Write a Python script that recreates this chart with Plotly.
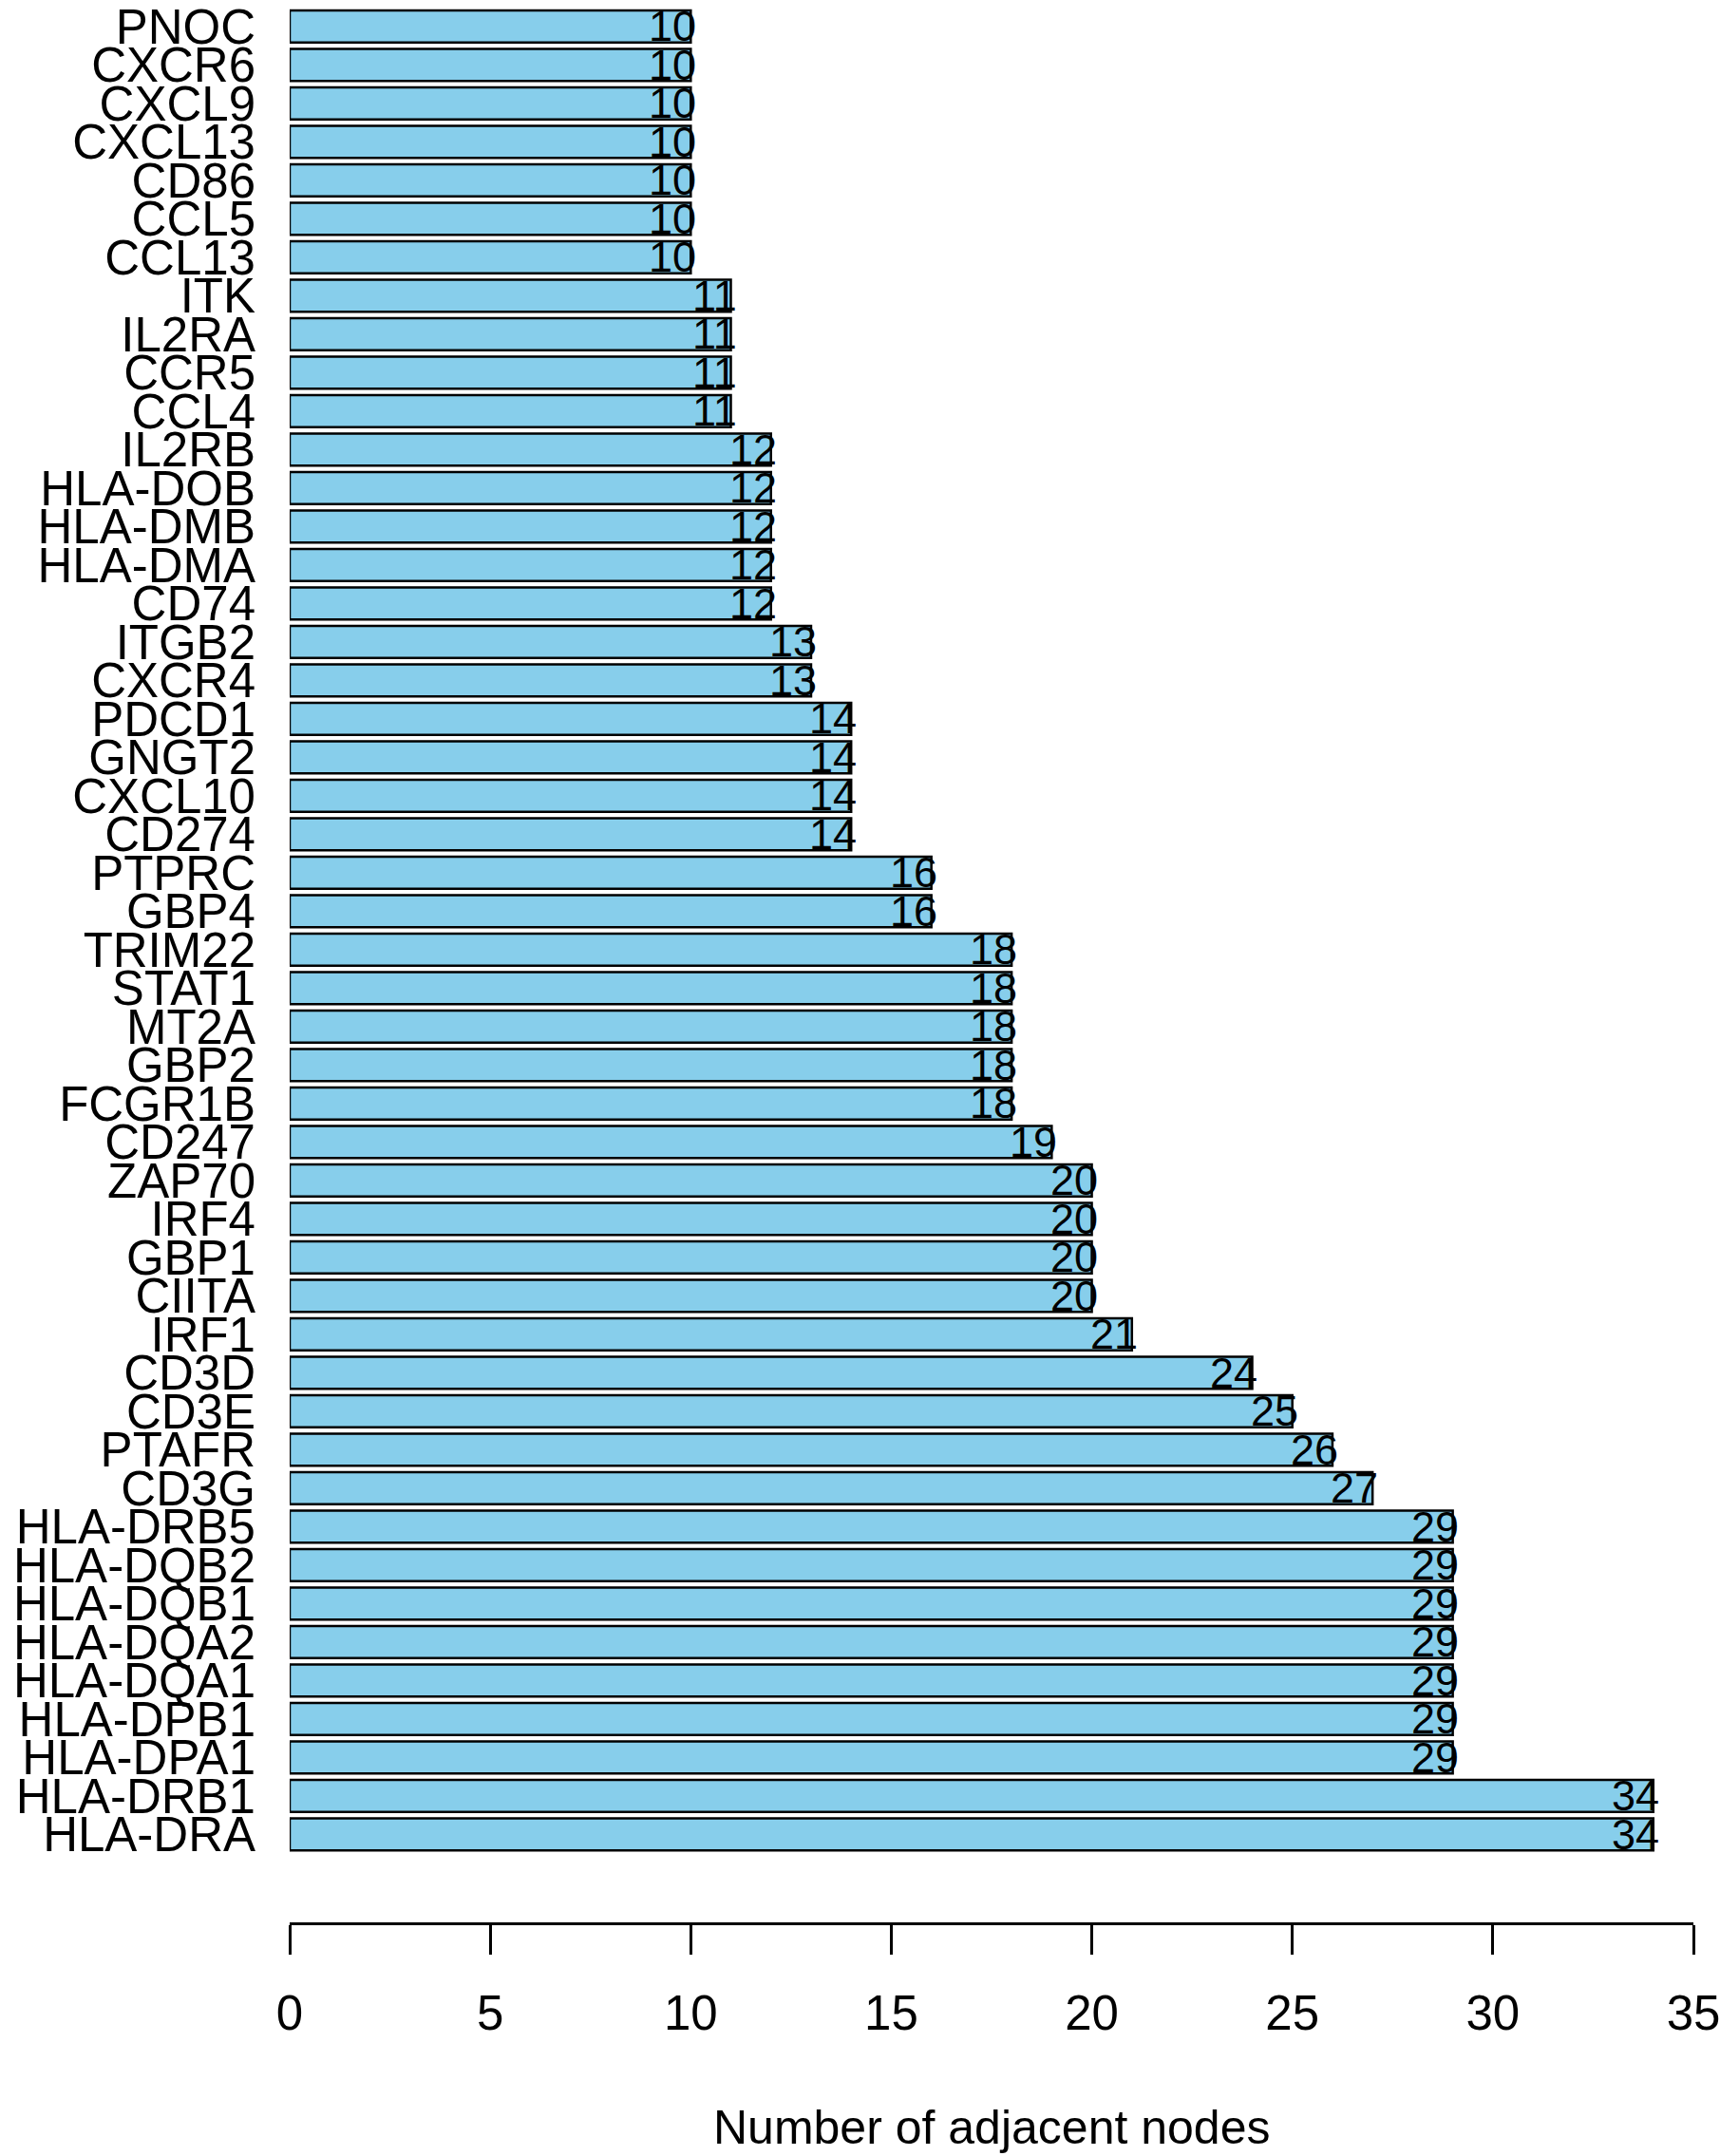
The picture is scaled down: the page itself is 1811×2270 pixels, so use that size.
import plotly.graph_objects as go

genes = ["PNOC", "CXCR6", "CXCL9", "CXCL13", "CD86", "CCL5", "CCL13", "ITK", "IL2RA", "CCR5",
         "CCL4", "IL2RB", "HLA-DOB", "HLA-DMB", "HLA-DMA", "CD74", "ITGB2", "CXCR4", "PDCD1",
         "GNGT2", "CXCL10", "CD274", "PTPRC", "GBP4", "TRIM22", "STAT1", "MT2A", "GBP2",
         "FCGR1B", "CD247", "ZAP70", "IRF4", "GBP1", "CIITA", "IRF1", "CD3D", "CD3E", "PTAFR",
         "CD3G", "HLA-DRB5", "HLA-DQB2", "HLA-DQB1", "HLA-DQA2", "HLA-DQA1", "HLA-DPB1",
         "HLA-DPA1", "HLA-DRB1", "HLA-DRA"]
degrees = [10, 10, 10, 10, 10, 10, 10, 11, 11, 11,
           11, 12, 12, 12, 12, 12, 13, 13, 14,
           14, 14, 14, 16, 16, 18, 18, 18, 18,
           18, 19, 20, 20, 20, 20, 21, 24, 25, 26,
           27, 29, 29, 29, 29, 29, 29,
           29, 34, 34]
x_ticks = [0, 5, 10, 15, 20, 25, 30, 35]
x_title = "Number of adjacent nodes"

FONT = "Liberation Sans, Arial, sans-serif"

fig = go.Figure()
fig.add_trace(go.Bar(
    x=degrees, y=genes, orientation="h",
    marker=dict(color="#87CEEB", line=dict(color="black", width=2.5)),
    hoverinfo="x+y",
))

for g, v in zip(genes, degrees):
    fig.add_annotation(x=v, y=g, text=str(v), showarrow=False,
                       xanchor="right", yanchor="middle", xshift=8,
                       font=dict(family=FONT, size=45, color="black"))

fig.add_annotation(x=0.5, y=-0.107, xref="paper", yref="paper", text=x_title,
                   showarrow=False, xanchor="center", yanchor="middle",
                   font=dict(family=FONT, size=50, color="black"))

fig.update_layout(
    width=1811, height=2270,
    margin=dict(l=305, r=28, t=0, b=246),
    paper_bgcolor="white", plot_bgcolor="white",
    bargap=0.167,
    showlegend=False,
    font=dict(family=FONT, color="black"),
)
fig.update_xaxes(
    range=[0, 35], tickmode="array", tickvals=x_ticks, ticktext=[str(t) for t in x_ticks],
    showgrid=False, zeroline=False, showline=True, linecolor="black", linewidth=2.5,
    ticks="outside", ticklen=31, tickwidth=2.5, tickcolor="black",
    ticklabelstandoff=18, ticklabeloverflow="allow",
    tickfont=dict(family=FONT, size=51, color="black"),
)
fig.update_yaxes(
    range=[49.29, -0.639], tickmode="array", tickvals=genes, ticktext=genes,
    showgrid=False, zeroline=False, showline=False,
    ticks="", ticklabelstandoff=35,
    tickfont=dict(family=FONT, size=51, color="black"),
)

fig.write_html("out.html", config={"displayModeBar": False},
               post_script="document.body.style.margin='0';")
